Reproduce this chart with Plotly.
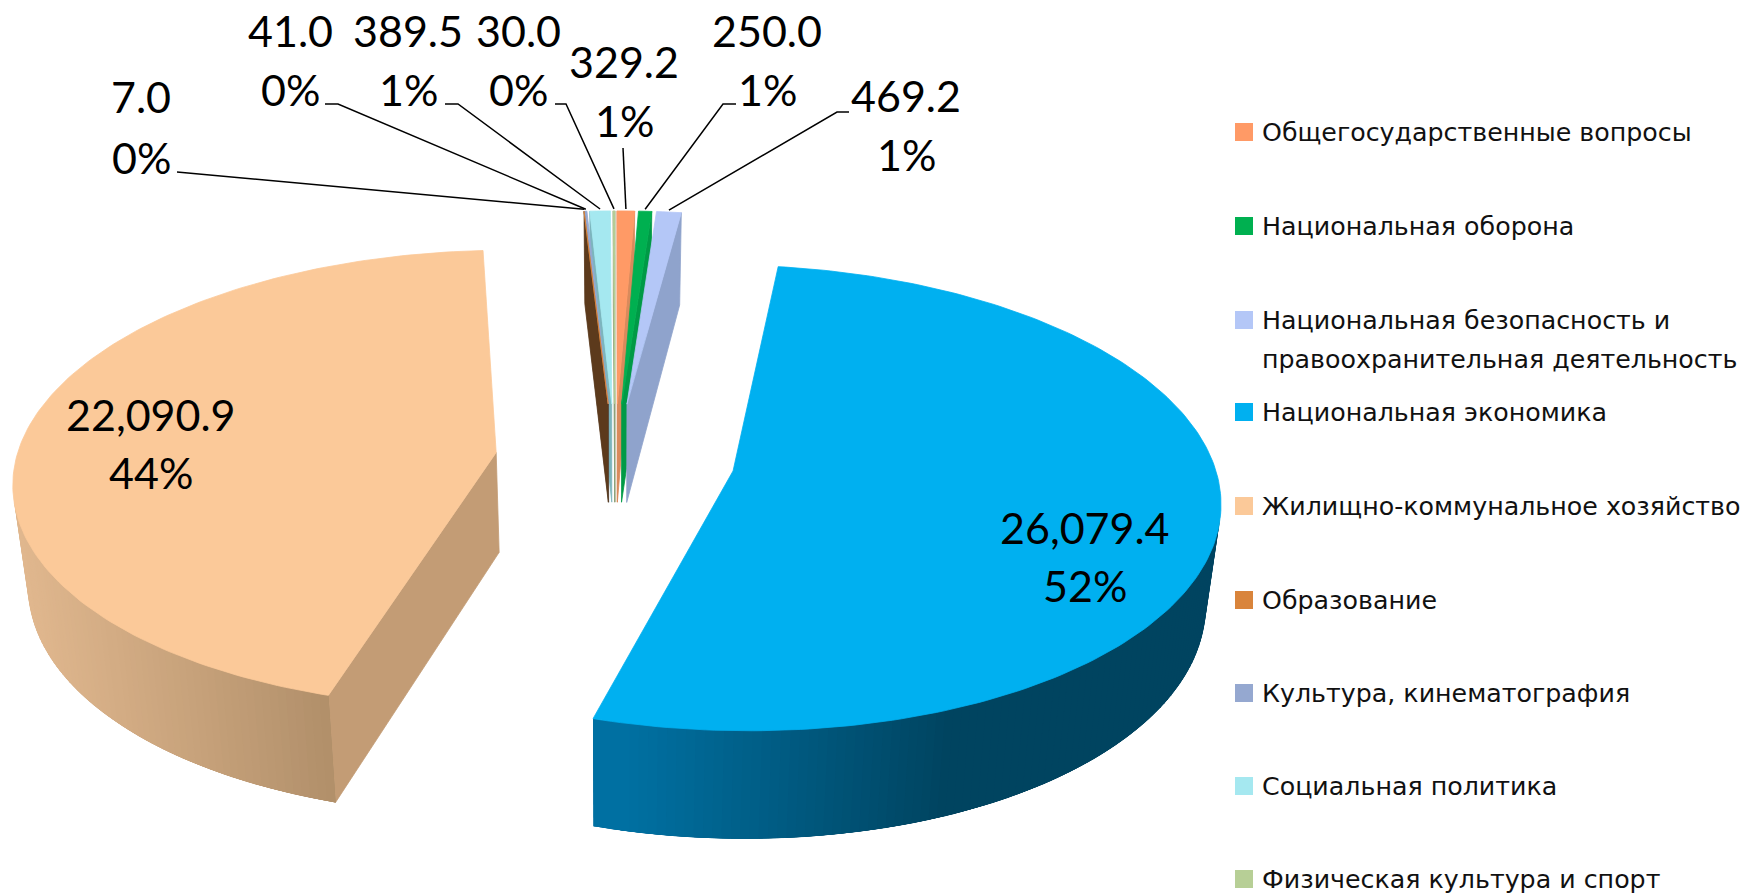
import math
import plotly.graph_objects as go

# ---- data ----
categories = ["Общегосударственные вопросы", "Национальная оборона",
              "Национальная безопасность и<br>правоохранительная деятельность",
              "Национальная экономика", "Жилищно-коммунальное хозяйство",
              "Образование", "Культура, кинематография",
              "Социальная политика", "Физическая культура и спорт"]
values = [329.2, 250.0, 469.2, 26079.4, 22090.9, 7.0, 41.0, 389.5, 30.0]
value_labels = ["329.2", "250.0", "469.2", "26,079.4", "22,090.9", "7.0", "41.0", "389.5", "30.0"]

# ---- styles ----
top_colors = ["#FF9A66", "#00B050", "#B4C7F7", "#00B0F0", "#FBC999",
              "#D9843B", "#95A8D0", "#A5E8F0", "#B7CF96"]
side_colors = ["#D98A5C", "#009A46", "#8FA3CC", "#005F85", "#C39C75",
               "#5C3A1C", "#566B80", "#7CB5BD", "#8E9F77"]
wall_stops = {3: [(593, (0, 113, 163)), (925, (0, 68, 96)), (1220, (0, 68, 96))],
              4: [(15, (224, 183, 142)), (333, (172, 139, 102))]}
LABEL_FONT = dict(family="Lato, Carlito, sans-serif", size=43, color="black")
LEGEND_FONT = dict(family="DejaVu Sans", size=25.3, color="#111111")
W, H = 1752, 895

# ---- projection parameters ----
CX, CY, AX, BY, PERSP, PULL, DEPTH, SHRINK = 615, 459, 480, 227, 0.115, 0.25, 100, 0.975


def project(X, Y, bottom=False):
    w = 1 + PERSP * Y
    x = CX + AX * X / w
    y = CY - BY * Y / w
    if bottom:
        x = CX + (x - CX) * SHRINK
        y = y + DEPTH / w ** 0.6
    return x, y


total = sum(values)
spans = []
a = 0.0
for v in values:
    spans.append((a, a + 360 * v / total))
    a += 360 * v / total


def ground(i, theta=None):
    """Ground position of rim angle theta (apex if None) for exploded slice i."""
    t0, t1 = spans[i]
    m = math.radians((t0 + t1) / 2)
    ox, oy = PULL * math.sin(m), PULL * math.cos(m)
    if theta is None:
        return ox, oy
    r = math.radians(theta)
    return ox + math.sin(r), oy + math.cos(r)


def rim(i, n_per_deg=1.0):
    t0, t1 = spans[i]
    n = max(2, int((t1 - t0) * n_per_deg) + 1)
    return [t0 + (t1 - t0) * j / n for j in range(n + 1)]


def area(pts):
    return sum(pts[j][0] * pts[(j + 1) % len(pts)][1] - pts[(j + 1) % len(pts)][0] * pts[j][1]
               for j in range(len(pts))) / 2


def poly(pts, color, edge=0.8):
    xs = [p[0] for p in pts] + [pts[0][0]]
    ys = [p[1] for p in pts] + [pts[0][1]]
    return go.Scatter(x=xs, y=ys, mode="lines", fill="toself", fillcolor=color,
                      line=dict(color=color, width=edge), hoverinfo="skip", showlegend=False)


def quad(g1, g2):
    return [project(*g1), project(*g2), project(*g2, bottom=True), project(*g1, bottom=True)]


def wall_color(i, x):
    stops = wall_stops[i]
    if x <= stops[0][0]:
        c = stops[0][1]
    elif x >= stops[-1][0]:
        c = stops[-1][1]
    else:
        for (x0, c0), (x1, c1) in zip(stops, stops[1:]):
            if x0 <= x <= x1:
                f = (x - x0) / (x1 - x0)
                c = tuple(c0[k] + (c1[k] - c0[k]) * f for k in range(3))
                break
    return "rgb(%d,%d,%d)" % tuple(round(v) for v in c)


fig = go.Figure()
mid_abs = lambda i: abs(math.sin(math.radians(sum(spans[i]) / 2)))
big = [i for i in range(len(values)) if mid_abs(i) > 0.5]
small = sorted((i for i in range(len(values)) if i not in big), key=mid_abs)

# side faces: small slices from the centre outwards, big slices first
for i in big + small:
    ts = rim(i)
    apex = ground(i)
    for g1, g2 in ((apex, ground(i, ts[0])), (ground(i, ts[-1]), apex)):
        q = quad(g1, g2)
        if area(q) < 0:
            fig.add_trace(poly(q, side_colors[i]))
    for j, (t1, t2) in enumerate(zip(ts, ts[1:])):
        q = quad(ground(i, t1), ground(i, t2))
        if area(q) < 0:
            color = wall_color(i, (q[0][0] + q[1][0]) / 2) if i in wall_stops else side_colors[i]
            # each strip runs on under its neighbour so that no seams show
            t3 = ts[min(j + 3, len(ts) - 1)]
            t0 = ts[max(j - 3, 0)]
            fig.add_trace(poly(quad(ground(i, t0), ground(i, t3)), color, edge=0))
# top faces above all the sides
for i in big + small:
    ts = rim(i)
    top = [project(*ground(i))] + [project(*ground(i, t)) for t in ts]
    fig.add_trace(poly(top, top_colors[i]))

# ---- data labels: value centre, percent centre ----
label_pos = {0: (624, 61, 120), 1: (767, 30, 89), 2: (906, 95, 154), 3: (1085, 527, 585),
             4: (151, 414, 472), 5: (141, 96, 157), 6: (290, 30, 89), 7: (408, 30, 89), 8: (518, 30, 89)}
leader_start = {0: [(623, 148)], 1: [(736, 104), (723, 104)], 2: [(849, 112), (837, 112)],
                5: [(177, 172)], 6: [(325, 104), (338, 104)], 7: [(445, 104), (458, 104)],
                8: [(555, 104), (566, 104)]}
for i, (lx, ly1, ly2) in label_pos.items():
    pct = "%d%%" % round(100 * values[i] / total)
    for txt, ly in ((value_labels[i], ly1), (pct, ly2)):
        fig.add_annotation(x=lx, y=ly, text=txt, showarrow=False, font=LABEL_FONT,
                           xanchor="center", yanchor="middle")

for i, pts in leader_start.items():
    end = project(*ground(i, sum(spans[i]) / 2))
    path = pts + [(end[0], end[1] - 2)]
    fig.add_trace(go.Scatter(x=[p[0] for p in path], y=[p[1] for p in path], mode="lines",
                             line=dict(color="black", width=1.5), hoverinfo="skip", showlegend=False))

# ---- legend ----
legend_x, legend_text_x, legend_line_gap = 1244, 1260, 39
legend_y = [132, 226, 320, 412, 506, 600, 693, 786, 879]
fig.add_trace(go.Scatter(x=[legend_x] * len(legend_y), y=legend_y, mode="markers",
                         marker=dict(symbol="square", size=18, color=top_colors, line=dict(width=0)),
                         hoverinfo="skip", showlegend=False))
for name, y in zip(categories, legend_y):
    for k, part in enumerate(name.split("<br>")):
        fig.add_annotation(x=legend_text_x, y=y + k * legend_line_gap, text=part, showarrow=False,
                           font=LEGEND_FONT, xanchor="left", yanchor="middle", align="left")

fig.update_layout(width=W, height=H, margin=dict(l=0, r=0, t=0, b=0),
                  paper_bgcolor="white", plot_bgcolor="white", showlegend=False,
                  xaxis=dict(range=[0, W], visible=False, fixedrange=True),
                  yaxis=dict(range=[H, 0], visible=False, fixedrange=True))
fig.write_html("out.html", config=dict(displayModeBar=False),
               post_script="document.body.style.margin='0';document.body.style.overflow='hidden';")
